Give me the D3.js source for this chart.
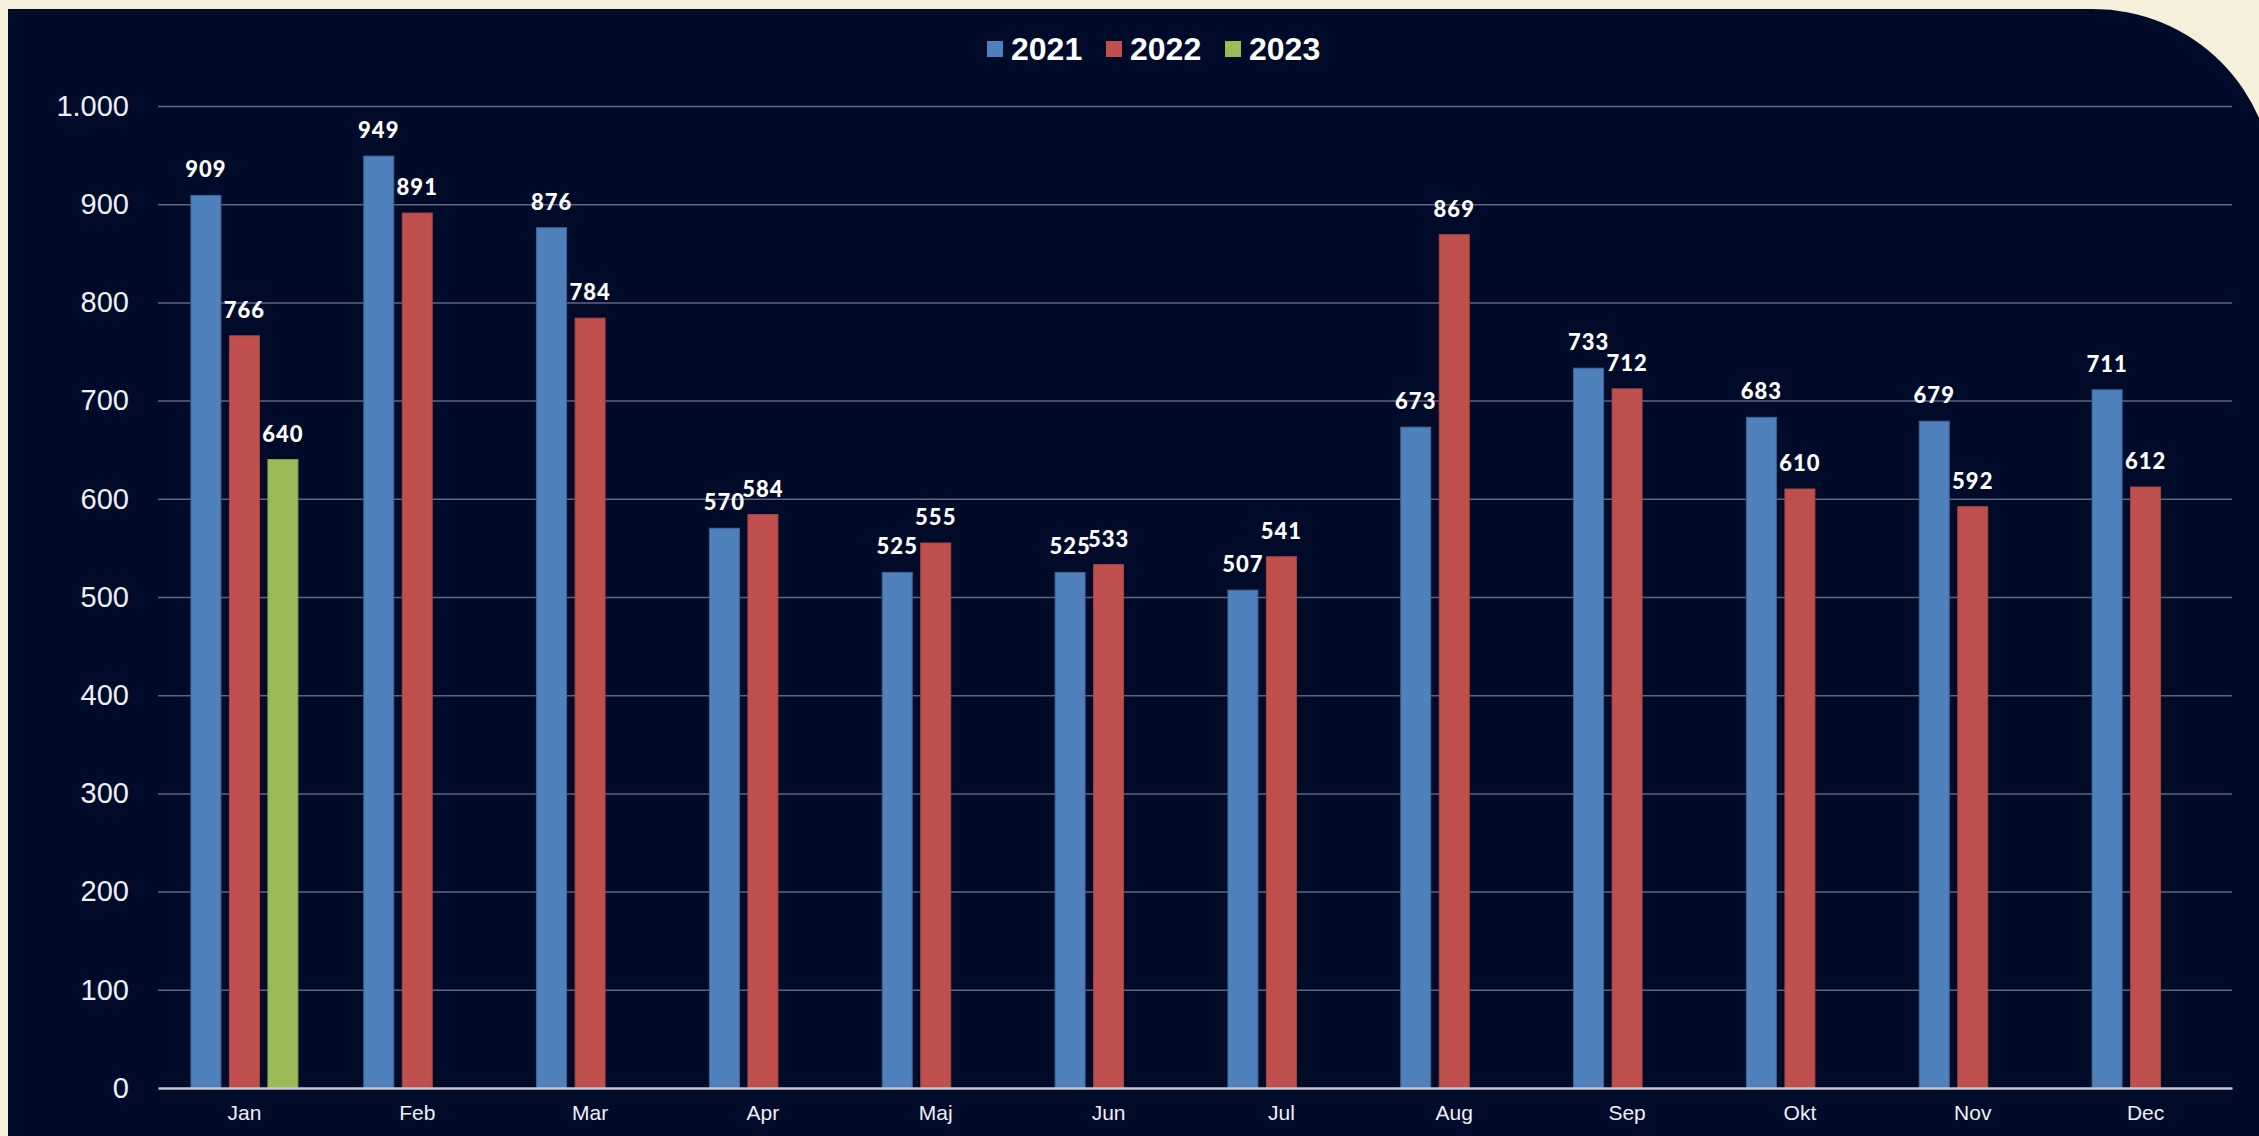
<!DOCTYPE html>
<html>
<head>
<meta charset="utf-8">
<script src="https://cdn.jsdelivr.net/npm/d3@7"></script>
<style>
  html, body { margin: 0; padding: 0; background: #f5efdc; }
  svg { display: block; }
  .grid line { stroke: #5f6580; stroke-width: 1.5; }
  .grid path { display: none; }
  .yaxis text { font-family: "Liberation Sans", Arial, sans-serif; font-size: 29px; fill: #eef0f4; }
  .xaxis text { font-family: "Liberation Sans", Arial, sans-serif; font-size: 21px; fill: #eef0f4; }
  .label { font-family: Lato, "Open Sans", sans-serif; font-weight: 900; font-size: 22px; fill: #ffffff; letter-spacing: 1px; }
  .legend text { font-family: "Liberation Sans", Arial, sans-serif; font-weight: bold; font-size: 32px; fill: #ffffff; }
</style>
</head>
<body>
<script>
const W = 2259, H = 1136;

const months = ["Jan","Feb","Mar","Apr","Maj","Jun","Jul","Aug","Sep","Okt","Nov","Dec"];
const years = ["2021","2022","2023"];
const values2021 = [909, 949, 876, 570, 525, 525, 507, 673, 733, 683, 679, 711];
const values2022 = [766, 891, 784, 584, 555, 533, 541, 869, 712, 610, 592, 612];
const values2023 = [640, null, null, null, null, null, null, null, null, null, null, null];
const yTicks = [0,100,200,300,400,500,600,700,800,900,1000];
const colors = ["#4f81bd","#c0504d","#9bbb59"];
const strokes = ["#3d6696","#a84442","#86a24a"];

const series = [values2021, values2022, values2023];

const dk = d3.formatLocale({decimal: ",", thousands: ".", grouping: [3], currency: ["", " kr"]});
const fmt = dk.format(",d");

const svg = d3.select("body").append("svg").attr("width", W).attr("height", H);

// panel with rounded top-right corner
const px0 = 8, py0 = 9, px1 = 2274, r = 181;
svg.append("path")
  .attr("d", `M${px0},${py0} H${px1 - r} A${r},${r} 0 0 1 ${px1},${py0 + r} V${H + 10} H${px0} Z`)
  .attr("fill", "#000b2a");

const plotL = 158, plotR = 2232, plotT = 106, plotB = 1088;

const x = d3.scaleBand().domain(months).range([plotL, plotR]).padding(0);
const barW = 30, barStep = 38.5;
const xs = d3.scaleBand().domain(years).range([-barStep * 1.5, barStep * 1.5]).paddingInner(0);

const y = d3.scaleLinear().domain([0, 1000]).range([plotB, plotT]);

// gridlines
svg.append("g").attr("class", "grid")
  .attr("transform", `translate(${plotL},0)`)
  .call(d3.axisLeft(y).tickValues(yTicks.slice(1)).tickSize(-(plotR - plotL)).tickFormat(""));

// y labels
const ya = svg.append("g").attr("class", "yaxis")
  .attr("transform", `translate(${plotL},0)`)
  .call(d3.axisLeft(y).tickValues(yTicks).tickSize(0).tickPadding(29).tickFormat(fmt));
ya.select(".domain").remove();

// bars
series.forEach((vals, si) => {
  const data = months.map((m, i) => ({m, v: vals[i]})).filter(d => d.v != null);
  const g = svg.append("g");
  g.selectAll("rect").data(data).join("rect")
    .attr("x", d => x(d.m) + x.bandwidth() / 2 + xs(years[si]) + (barStep - barW) / 2)
    .attr("y", d => y(d.v))
    .attr("width", barW)
    .attr("height", d => y(0) - y(d.v))
    .attr("fill", colors[si])
    .attr("stroke", strokes[si])
    .attr("stroke-width", 1);
  g.selectAll("text").data(data).join("text")
    .attr("class", "label")
    .attr("x", d => x(d.m) + x.bandwidth() / 2 + xs(years[si]) + barStep / 2)
    .attr("y", d => y(d.v) - 18)
    .attr("text-anchor", "middle")
    .text(d => fmt(d.v));
});

// x axis
const xa = svg.append("g").attr("class", "xaxis")
  .attr("transform", `translate(0,${plotB})`)
  .call(d3.axisBottom(x).tickSize(0).tickPadding(17));
xa.select(".domain").attr("stroke", "#c4c6d0").attr("stroke-width", 2.5);

// legend
const legend = svg.append("g").attr("class", "legend").attr("transform", "translate(987,41)");
years.forEach((yr, i) => {
  const it = legend.append("g").attr("transform", `translate(${i * 119},0)`);
  it.append("rect").attr("width", 16).attr("height", 16).attr("fill", colors[i]);
  it.append("text").attr("x", 24).attr("y", 19).text(yr);
});
</script>
</body>
</html>
